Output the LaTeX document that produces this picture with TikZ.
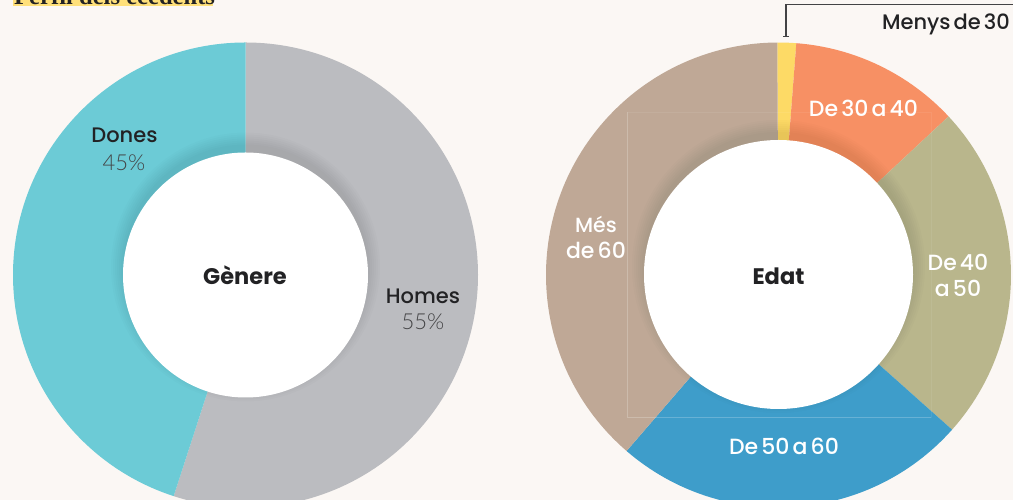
\documentclass[tikz,border=0pt]{standalone}
\usepackage{fontspec}
\setmainfont{Poppins}[UprightFont=* Medium,BoldFont=* Bold,WordSpace=0.55]
\newfontfamily\lightfont{Lato Light}
\newfontfamily\titlefont{Liberation Serif}[UprightFont=* Bold]
\usetikzlibrary{arrows.meta}
\definecolor{bg}{HTML}{FBF7F4}
\definecolor{teal}{HTML}{6CCBD6}
\definecolor{greyring}{HTML}{BBBCC0}
\definecolor{yel}{HTML}{FDDA66}
\definecolor{ora}{HTML}{F79064}
\definecolor{oli}{HTML}{B9B68C}
\definecolor{blu}{HTML}{3E9DCA}
\definecolor{bro}{HTML}{BFA896}
\definecolor{ink}{HTML}{222224}
\definecolor{hl}{HTML}{FFE07A}
\newcommand{\slicepart}[4]{% centre, from, to, colour
  \fill[#4] (#1) ++(#2:232.5) arc[start angle=#2,end angle=#3,radius=232.5] -- (#1) -- cycle;}
\newcommand{\holeshade}[2]{% centre, radius
  \foreach \dr in {12,10,...,0}{\fill[black,opacity=.013] ([yshift=8pt]#1) circle[radius=#2+\dr];}
  \fill[white] (#1) circle[radius=#2];}
\tikzset{
  x=1pt,y=1pt,
  lbl/.style={anchor=base,inner sep=0pt,font=\fontsize{21}{21}\selectfont,text=ink},
  lblw/.style={anchor=base,inner sep=0pt,font=\fontsize{22}{22}\selectfont,text=white},
  pct/.style={anchor=base,inner sep=0pt,font=\fontsize{22}{22}\lightfont,text=ink!85},
  ctr/.style={anchor=base,inner sep=0pt,font=\fontsize{22.5}{22.5}\selectfont\bfseries,text=ink},
  leader/.style={draw=ink!85,line width=1.2pt,-{Bar[width=6pt,length=0pt]}},
  frameline/.style={draw=white,opacity=.07,line width=.7pt},
  framestrong/.style={draw=white,opacity=.16,line width=.7pt}
}
\begin{document}
\begin{tikzpicture}
\useasboundingbox (0,0) rectangle (1013,500);
\clip (0,0) rectangle (1013,500);
\fill[bg] (0,0) rectangle (1013,500);
% title strip
\fill[hl] (13,494) rectangle (213,500);
\node[anchor=base west,inner sep=0pt,font=\fontsize{24.6}{24.6}\titlefont,text=ink] (titletext) at (14,495.2) {Perfil dels ecedents};
% left ring
\coordinate (cl) at (245.5,225);
\slicepart{cl}{90}{-108}{greyring}
\slicepart{cl}{90}{252}{teal}
\holeshade{cl}{122.5}
% right ring
\coordinate (cr) at (778.5,225);
\coordinate (crh) at (778.5,225.5);
\slicepart{cr}{90.3}{85.6}{yel}
\slicepart{cr}{85.6}{43}{ora}
\slicepart{cr}{43}{-41.7}{oli}
\slicepart{cr}{-41.7}{-130.8}{blu}
\slicepart{cr}{-130.8}{-269.7}{bro}
\draw[frameline] (627,83) rectangle (931,388);
\draw[framestrong] (627,388) -- (627,83) -- (931,83);
\holeshade{crh}{134.5}
% labels
\node[lbl] (dones) at (124.5,357) {Dones};
\node[pct] (p45) at (124,329) {45\%};
\node[ctr] (genere) at (245,215) {Gènere};
\node[lbl] (homes) at (423,196) {Homes};
\node[pct] (p55) at (423,170) {55\%};
\node[ctr] (edat) at (778.5,215) {Edat};
\node[lblw] (d3040) at (863.5,383) {De 30 a 40};
\node[lblw] (d4050a) at (958,229) {De 40};
\node[lblw] (d4050b) at (958,203) {a 50};
\node[lblw] (d5060) at (784,45) {De 50 a 60};
\node[lblw,font=\fontsize{20.5}{20.5}\selectfont] (mesa) at (596,267) {Més};
\node[lblw] (mesb) at (596,241) {de 60};
\node[lbl,anchor=base east] (menys) at (1010,470) {Menys de 30};
% leader
\coordinate (lstart) at (1013,495.5);
\coordinate (lbend) at (786,495.5);
\coordinate (lend) at (786,462.5);
\draw[leader] (lstart) -- (lbend) -- (lend);
\end{tikzpicture}
\end{document}
